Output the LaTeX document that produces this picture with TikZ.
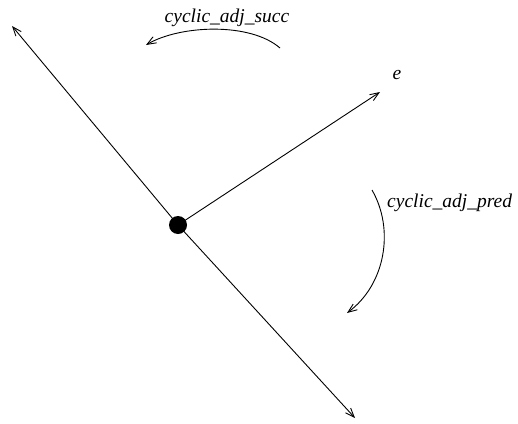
\documentclass[tikz,border=0pt]{standalone}
\usepackage{fontspec}
\setmainfont{Liberation Serif}
\usetikzlibrary{arrows.meta}
\begin{document}
\begin{tikzpicture}[x=1pt,y=-1pt,
  ln/.style={line width=0.9pt,-{Straight Barb[length=9pt,width=7pt]}},
  lbl/.style={font=\fontsize{19.5}{23}\selectfont\itshape,inner sep=0pt}]
\useasboundingbox (0,0) rectangle (518,423);
\node[circle,fill=black,minimum size=18pt,inner sep=0pt] (v) at (178,225) {};
\coordinate (nw) at (12,26);
\coordinate (se) at (355,418);
\coordinate (e) at (380,92);
\draw[ln] (v.center) -- (nw);
\draw[ln] (v.center) -- (se);
\draw[ln] (v.center) -- (e);
\node[lbl] (el) at (397,75) {e};
\coordinate (s1) at (280,48);
\coordinate (s2) at (146,45);
\draw[ln] (s1) .. controls (250,22) and (180,25) .. (s2);
\node[lbl] (sl) at (227,18) {cyclic\_adj\_succ};
\coordinate (p1) at (372,190);
\coordinate (p2) at (347,313);
\draw[ln] (p1) .. controls (395,230) and (385,285) .. (p2);
\node[lbl,anchor=west] (pl) at (387,203) {cyclic\_adj\_pred};
\end{tikzpicture}
\end{document}
